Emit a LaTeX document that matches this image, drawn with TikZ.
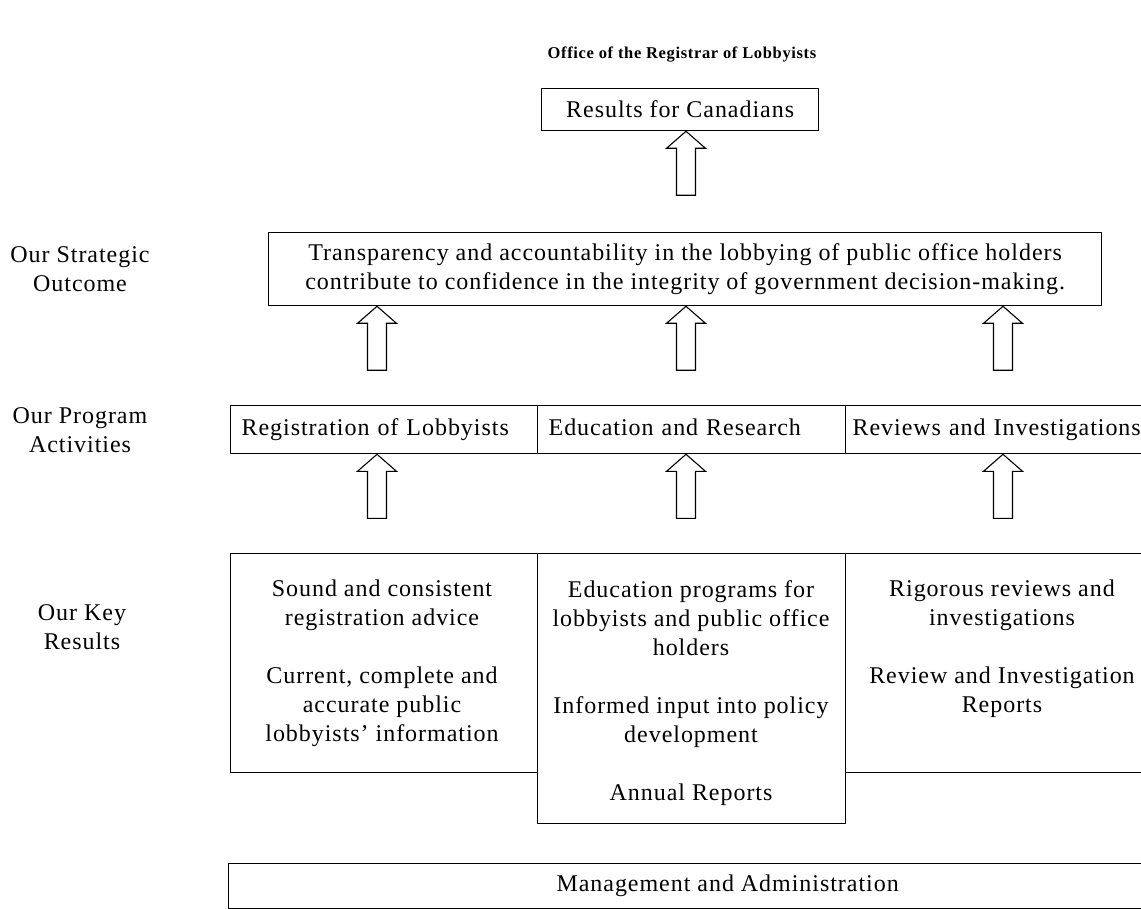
\documentclass[tikz,border=0pt]{standalone}
\usepackage{fontspec}
\setmainfont{Liberation Serif}[LetterSpace=4]
\newcommand\bodyfont{\fontsize{24}{29}\selectfont}
% hollow upward block arrow, tip at #1
\newcommand\blockarr[1]{\draw[hollowarr] (#1) -- ++(19.5,17) -- ++(-10,0) -- ++(0,47) -- ++(-19,0) -- ++(0,-47) -- ++(-10,0) -- cycle;}

\begin{document}
\begin{tikzpicture}[x=1pt,y=-1pt,
		box/.style={draw,line width=1.3pt,anchor=north west,inner sep=0pt,font=\bodyfont,align=center},
		actbox/.style={box,minimum height=48pt,inner xsep=11pt,align=left,text height=16pt,text depth=5pt},
		txt/.style={font=\bodyfont,align=center,inner sep=0pt},
		hollowarr/.style={draw,line width=1.1pt,fill=white,line join=miter}]
	\useasboundingbox (0,0) rectangle (1141,909);
	\clip (0,0) rectangle (1141,909);
	\node[font=\bfseries\fontsize{16.5}{19}\selectfont] (title) at (682,55) {Office of the Registrar of Lobbyists};
	% side labels
	\node[txt] (lblout) at (80,269) {Our Strategic\\Outcome};
	\node[txt] (lblact) at (80,430) {Our Program\\Activities};
	\node[txt] (lblkey) at (82,627) {Our Key\\Results};
	% boxes
	\node[box,minimum width=277pt,minimum height=42pt] (results) at (541,88) {Results for Canadians};
	\node[box,minimum width=833pt,minimum height=73pt] (outcome) at (268,232) {Transparency and accountability in the lobbying of public office holders\\contribute to confidence in the integrity of government decision-making.};
	\node[actbox,text width=285pt] (regist) at (230,405) {Registration of Lobbyists};
	\node[actbox,text width=286pt] (educ) at (537,405) {Education and Research};
	\node[actbox,text width=310pt,inner xsep=7pt] (review) at (845,405) {Reviews and Investigations};
	\node[box,minimum width=307pt,minimum height=219pt] (keyreg) at (230,553) {};
	\node[box,minimum width=330pt,minimum height=219pt] (keyrev) at (845,553) {};
	\node[box,minimum width=308pt,minimum height=270pt] (keyeduc) at (537,553) {};
	\node[txt,anchor=north] (kregtxt) at (382,580) {Sound and consistent\\registration advice\\[29pt]Current, complete and\\accurate public\\lobbyists’ information};
	\node[txt,anchor=north] (keductxt) at (691,580) {Education programs for\\lobbyists and public office\\holders\\[29pt]Informed input into policy\\development\\[29pt]Annual Reports};
	\node[txt,anchor=north] (krevtxt) at (1002,580) {Rigorous reviews and\\investigations\\[29pt]Review and Investigation\\Reports};
	\node[box,minimum width=998pt,minimum height=45pt] (mgmt) at (228,863) {Management and Administration};
	% arrows
	\blockarr{results.south -| 686,0}
	\foreach \x in {377,686,1003} {\blockarr{outcome.south -| \x,0}}
	\foreach \x in {377,686,1003} {\blockarr{regist.south -| \x,0}}
\end{tikzpicture}
\end{document}
